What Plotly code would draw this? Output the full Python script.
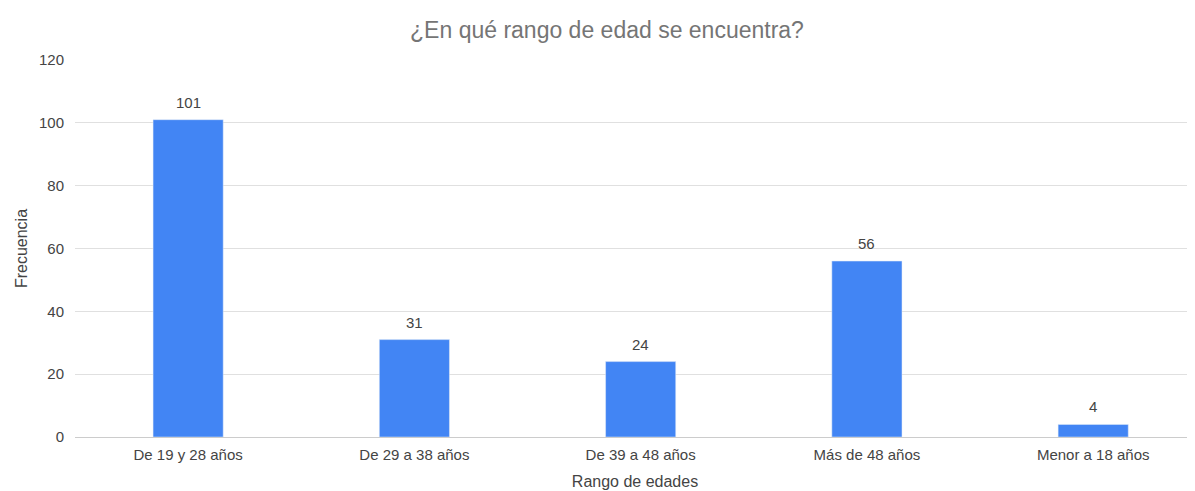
import plotly.graph_objects as go

categories = ["De 19 y 28 años", "De 29 a 38 años", "De 39 a 48 años",
              "Más de 48 años", "Menor a 18 años"]
frecuencia = [101, 31, 24, 56, 4]
y_ticks = [0, 20, 40, 60, 80, 100, 120]

# page body has an 8px margin, so the figure is a bit smaller than the window
W, H = 1187, 483

fig = go.Figure()
fig.add_trace(go.Bar(
    x=categories,
    y=frecuencia,
    marker_color="#4285F4",
    hovertemplate="%{x}: %{y}<extra></extra>",
))

# value labels above the bars
for cat, val in zip(categories, frecuencia):
    fig.add_annotation(
        x=cat, y=val, text=str(val),
        showarrow=False, yanchor="bottom", yshift=7,
        font=dict(size=15, color="#444444"),
    )

fig.update_layout(
    width=W,
    height=H,
    margin=dict(l=67, r=0, t=52, b=54),
    paper_bgcolor="white",
    plot_bgcolor="white",
    font=dict(family="Liberation Sans, Arial, sans-serif", color="#444444", size=15),
    title=dict(
        text="¿En qué rango de edad se encuentra?",
        x=(607 - 8) / W, xanchor="center",
        y=1 - 22 / H, yanchor="middle",
        font=dict(size=23, color="#757575"),
    ),
    bargap=0.69,
    showlegend=False,
)

fig.update_xaxes(
    range=[-0.5, 4.45],
    showgrid=False,
    showline=False,
    ticks="",
    ticklabelstandoff=7,
    tickfont=dict(size=15, color="#444444"),
    title=dict(text="Rango de edades", font=dict(size=16, color="#444444"), standoff=13),
    automargin=False,
)

fig.update_yaxes(
    range=[0, 120],
    tickvals=y_ticks,
    gridcolor="#e0e0e0",
    zeroline=True,
    zerolinecolor="#cccccc",
    zerolinewidth=1,
    ticks="",
    ticklabelstandoff=10,
    tickfont=dict(size=15, color="#444444"),
    title=dict(text="Frecuencia", font=dict(size=16, color="#444444"), standoff=7),
    automargin=False,
)

fig.write_html("out.html")
